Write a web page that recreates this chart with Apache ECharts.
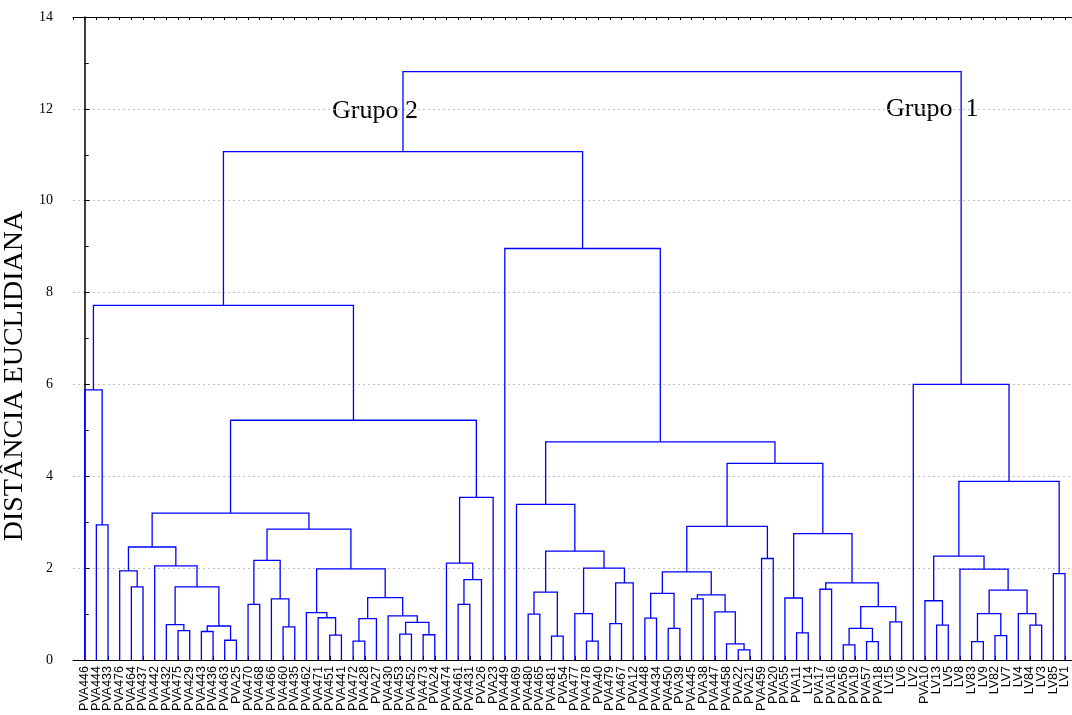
<!DOCTYPE html>
<html>
<head>
<meta charset="utf-8">
<title>Dendrograma</title>
<script src="https://cdn.jsdelivr.net/npm/echarts@6/dist/echarts.min.js"></script>
<style>
  html, body { margin: 0; padding: 0; background: #fff; }
  #main { width: 1072px; height: 715px; }
</style>
</head>
<body>
<div id="main"></div>
<script>
// folhas na ordem do eixo x
const leaves = [
  'PVA446', 'PVA444', 'PVA433', 'PVA476', 'PVA464', 'PVA437', 'PVA442', 'PVA432', 'PVA475', 'PVA429',
  'PVA443', 'PVA436', 'PVA463', 'PVA25', 'PVA470', 'PVA468', 'PVA466', 'PVA460', 'PVA435', 'PVA462',
  'PVA471', 'PVA451', 'PVA441', 'PVA472', 'PVA428', 'PVA27', 'PVA430', 'PVA453', 'PVA452', 'PVA473',
  'PVA24', 'PVA474', 'PVA461', 'PVA431', 'PVA26', 'PVA23', 'PVA449', 'PVA469', 'PVA480', 'PVA465',
  'PVA481', 'PVA54', 'PVA477', 'PVA478', 'PVA40', 'PVA479', 'PVA467', 'PVA12', 'PVA448', 'PVA434',
  'PVA450', 'PVA39', 'PVA445', 'PVA38', 'PVA447', 'PVA458', 'PVA22', 'PVA21', 'PVA459', 'PVA20',
  'PVA55', 'PVA11', 'LV14', 'PVA17', 'PVA16', 'PVA56', 'PVA19', 'PVA57', 'PVA18', 'LV15',
  'LV6', 'LV2', 'PVA10', 'LV13', 'LV5', 'LV8', 'LV83', 'LV9', 'LV82', 'LV7',
  'LV4', 'LV84', 'LV3', 'LV85', 'LV1'
];

// fusões: [filho A, filho B, distância]; texto = folha, número = fusão anterior
const merges = [
  ['PVA444', 'PVA433', 2.94],   // 0
  ['PVA446', 0, 5.88],          // 1
  ['PVA464', 'PVA437', 1.59],   // 2
  ['PVA476', 2, 1.94],          // 3
  ['PVA475', 'PVA429', 0.64],   // 4
  ['PVA432', 4, 0.77],          // 5
  ['PVA443', 'PVA436', 0.62],   // 6
  ['PVA463', 'PVA25', 0.43],    // 7
  [6, 7, 0.74],                 // 8
  [5, 8, 1.59],                 // 9
  ['PVA442', 9, 2.05],          // 10
  [3, 10, 2.46],                // 11
  ['PVA470', 'PVA468', 1.21],   // 12
  ['PVA460', 'PVA435', 0.72],   // 13
  ['PVA466', 13, 1.33],         // 14
  [12, 14, 2.17],               // 15
  ['PVA451', 'PVA441', 0.54],   // 16
  ['PVA471', 16, 0.92],         // 17
  ['PVA462', 17, 1.03],         // 18
  ['PVA472', 'PVA428', 0.41],   // 19
  [19, 'PVA27', 0.90],          // 20
  ['PVA453', 'PVA452', 0.565],  // 21
  ['PVA473', 'PVA24', 0.55],    // 22
  [21, 22, 0.82],               // 23
  ['PVA430', 23, 0.96],         // 24
  [20, 24, 1.36],               // 25
  [18, 25, 1.985],              // 26
  [15, 26, 2.85],               // 27
  [11, 27, 3.2],                // 28
  ['PVA461', 'PVA431', 1.21],   // 29
  [29, 'PVA26', 1.75],          // 30
  ['PVA474', 30, 2.11],         // 31
  [31, 'PVA23', 3.54],          // 32
  [28, 32, 5.22],               // 33
  [1, 33, 7.72],                // 34
  ['PVA480', 'PVA465', 1.0],    // 35
  ['PVA481', 'PVA54', 0.52],    // 36
  [35, 36, 1.48],               // 37
  ['PVA478', 'PVA40', 0.41],    // 38
  ['PVA477', 38, 1.01],         // 39
  ['PVA479', 'PVA467', 0.79],   // 40
  [40, 'PVA12', 1.68],          // 41
  [39, 41, 2.0],                // 42
  [37, 42, 2.37],               // 43
  ['PVA469', 43, 3.39],         // 44
  ['PVA448', 'PVA434', 0.91],   // 45
  ['PVA450', 'PVA39', 0.69],    // 46
  [45, 46, 1.45],               // 47
  ['PVA445', 'PVA38', 1.33],    // 48
  ['PVA22', 'PVA21', 0.22],     // 49
  ['PVA458', 49, 0.35],         // 50
  ['PVA447', 50, 1.05],         // 51
  [48, 51, 1.42],               // 52
  [47, 52, 1.92],               // 53
  ['PVA459', 'PVA20', 2.21],    // 54
  [53, 54, 2.91],               // 55
  ['PVA11', 'LV14', 0.59],      // 56
  ['PVA55', 56, 1.35],          // 57
  ['PVA17', 'PVA16', 1.54],     // 58
  ['PVA56', 'PVA19', 0.33],     // 59
  ['PVA57', 'PVA18', 0.40],     // 60
  [59, 60, 0.69],               // 61
  ['LV15', 'LV6', 0.83],        // 62
  [61, 62, 1.16],               // 63
  [58, 63, 1.68],               // 64
  [57, 64, 2.75],               // 65
  [55, 65, 4.28],               // 66
  [44, 66, 4.75],               // 67
  ['PVA449', 67, 8.96],         // 68
  [34, 68, 11.07],              // 69
  ['LV13', 'LV5', 0.76],        // 70
  ['PVA10', 70, 1.29],          // 71
  ['LV83', 'LV9', 0.40],        // 72
  ['LV82', 'LV7', 0.53],        // 73
  [72, 73, 1.01],               // 74
  ['LV84', 'LV3', 0.76],        // 75
  ['LV4', 75, 1.01],            // 76
  [74, 76, 1.52],               // 77
  ['LV8', 77, 1.98],            // 78
  [71, 78, 2.26],               // 79
  ['LV85', 'LV1', 1.88],        // 80
  [79, 80, 3.89],               // 81
  ['LV2', 81, 6.0],             // 82
  [69, 82, 12.81]               // 83
];

const groupLabels = ['Grupo 2', 'Grupo  1'];

// posição x de cada fusão = meio dos dois filhos
const nodeX = [], nodeH = [];
function pos(c) {
  if (typeof c === 'string') return [leaves.indexOf(c), 0];
  return [nodeX[c], nodeH[c]];
}
const links = merges.map(function (m, i) {
  const a = pos(m[0]), b = pos(m[1]);
  nodeX[i] = (a[0] + b[0]) / 2;
  nodeH[i] = m[2];
  return [a[0], a[1], b[0], b[1], m[2]];
});

const serif = '"Liberation Serif", "DejaVu Serif", serif';
const sans = '"Liberation Sans", Arial, sans-serif';

const myChart = echarts.init(document.getElementById('main'));
const option = {
  animation: false,
  backgroundColor: '#fff',
  grid: { left: 73, right: 0, top: 17, bottom: 55 },
  xAxis: [
    {
      type: 'value',
      position: 'bottom',
      min: -1,
      max: 84.6,
      interval: 1,
      axisLine: { show: true, lineStyle: { color: '#000', width: 1 } },
      axisTick: { show: true, inside: true, length: 4, lineStyle: { color: '#000' } },
      axisLabel: {
        rotate: 90,
        margin: 6,
        fontFamily: sans,
        fontSize: 12.5,
        color: '#000',
        showMinLabel: false,
        formatter: function (v) { return leaves[v] || ''; }
      },
      splitLine: { show: false }
    },
    {
      type: 'value',
      position: 'top',
      min: -1,
      max: 84.6,
      interval: 1,
      axisLine: { show: true, lineStyle: { color: '#000', width: 1 } },
      axisTick: { show: true, inside: true, length: 3, lineStyle: { color: '#000' } },
      axisLabel: { show: false },
      splitLine: { show: false }
    }
  ],
  yAxis: {
    type: 'value',
    min: 0,
    max: 14,
    interval: 2,
    axisLine: { show: true, lineStyle: { color: '#000', width: 1.5 } },
    axisTick: { show: true, inside: true, length: 5, lineStyle: { color: '#000' } },
    minorTick: { show: true, splitNumber: 2, length: 4, lineStyle: { color: '#000' } },
    axisLabel: { margin: 20, fontFamily: serif, fontSize: 14, color: '#000' },
    splitLine: { show: true, lineStyle: { color: '#c0c0c0', type: [2, 3], width: 1 } }
  },
  graphic: [
    {
      type: 'text', left: 332, top: 98,
      style: { text: groupLabels[0], font: '26px ' + serif, fill: '#000' }
    },
    {
      type: 'text', left: 886, top: 96,
      style: { text: groupLabels[1], font: '26px ' + serif, fill: '#000' }
    },
    {
      type: 'text', x: 15, y: 376, rotation: Math.PI / 2,
      style: {
        text: 'DISTÂNCIA EUCLIDIANA', font: '28px ' + serif, fill: '#000',
        align: 'center', verticalAlign: 'middle'
      }
    }
  ],
  series: [
    {
      type: 'custom',
      xAxisIndex: 0,
      renderItem: function (params, api) {
        const p1 = api.coord([api.value(0), api.value(1)]);
        const p2 = api.coord([api.value(0), api.value(4)]);
        const p3 = api.coord([api.value(2), api.value(4)]);
        const p4 = api.coord([api.value(2), api.value(3)]);
        return {
          type: 'polyline',
          shape: { points: [p1, p2, p3, p4] },
          style: { stroke: '#0000ff', lineWidth: 1.3, fill: null }
        };
      },
      encode: { x: [0, 2], y: [1, 3, 4] },
      data: links
    }
  ]
};

myChart.setOption(option);

window.addEventListener('resize', function () {
  myChart.resize();
});
</script>
</body>
</html>
